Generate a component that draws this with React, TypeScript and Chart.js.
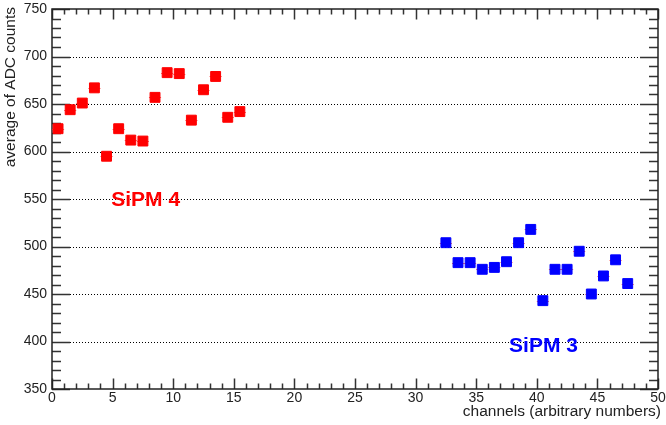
import React, { useEffect, useRef } from "react";
import { Chart, registerables } from "chart.js";

Chart.register(...registerables);

const sipm4Channels = [0.5, 1.5, 2.5, 3.5, 4.5, 5.5, 6.5, 7.5, 8.5, 9.5, 10.5, 11.5, 12.5, 13.5, 14.5, 15.5];
const sipm4Values = [624, 644, 651, 667, 595, 624, 612, 611, 657, 683, 682, 633, 665, 679, 636, 642];
const sipm3Channels = [32.5, 33.5, 34.5, 35.5, 36.5, 37.5, 38.5, 39.5, 40.5, 41.5, 42.5, 43.5, 44.5, 45.5, 46.5, 47.5];
const sipm3Values = [504, 483, 483, 476, 478, 484, 504, 518, 443, 476, 476, 495, 450, 469, 486, 461];

const xTitle = "channels (arbitrary numbers)";
const yTitle = "average of ADC counts";
const labelTexts = ["SiPM 4", "SiPM 3"];
const labelX = [7.73, 40.55];
const labelY = [542.6, 389];
const labelColors = ["#ff0000", "#0000ff"];

const X_MIN = 0, X_MAX = 50, X_MAJOR = 5, X_MINOR = 1;
const Y_MIN = 350, Y_MAX = 750, Y_MAJOR = 50, Y_MINOR = 10;

const FONT = "'Liberation Sans', Arial, Helvetica, sans-serif";

const zeroPadding = () => ({ top: 0, left: 0, right: 0, bottom: 0 });

const rootPlugin = {
  id: "rootStyle",
  beforeDatasetsDraw(chart: any) {
    const { ctx, chartArea: a, scales } = chart;
    const xs = scales.x, ys = scales.y;
    ctx.save();
    ctx.strokeStyle = "#000";
    ctx.lineWidth = 1;
    ctx.setLineDash([1, 2]);
    for (let v = Y_MIN + Y_MAJOR; v < Y_MAX; v += Y_MAJOR) {
      const y = Math.round(ys.getPixelForValue(v)) + 0.5;
      ctx.beginPath();
      ctx.moveTo(a.left, y);
      ctx.lineTo(a.right, y);
      ctx.stroke();
    }
    ctx.setLineDash([]);
    ctx.strokeStyle = "#333";
    ctx.lineWidth = 1.5;
    for (let v = X_MIN; v <= X_MAX + 1e-9; v += X_MINOR) {
      const x = Math.round(xs.getPixelForValue(v)) + 0.5;
      const major = Math.abs(v / X_MAJOR - Math.round(v / X_MAJOR)) < 1e-6;
      const len = major ? 10.5 : 5.5;
      ctx.beginPath();
      ctx.moveTo(x, a.bottom);
      ctx.lineTo(x, a.bottom - len);
      ctx.moveTo(x, a.top);
      ctx.lineTo(x, a.top + len);
      ctx.stroke();
    }
    for (let v = Y_MIN; v <= Y_MAX + 1e-9; v += Y_MINOR) {
      const y = Math.round(ys.getPixelForValue(v)) + 0.5;
      const major = Math.abs(v / Y_MAJOR - Math.round(v / Y_MAJOR)) < 1e-6;
      const len = major ? 18 : 9;
      ctx.beginPath();
      ctx.moveTo(a.left, y);
      ctx.lineTo(a.left + len, y);
      ctx.moveTo(a.right, y);
      ctx.lineTo(a.right - len, y);
      ctx.stroke();
    }
    ctx.strokeStyle = "#222";
    ctx.lineWidth = 1.5;
    ctx.strokeRect(a.left, a.top, a.right - a.left, a.bottom - a.top);
    ctx.strokeStyle = "rgba(255,60,60,0.8)";
    ctx.lineWidth = 1;
    chart.data.datasets.forEach((ds: any) => {
      ds.data.forEach((p: any) => {
        const y = Math.round(ys.getPixelForValue(p.y)) + 0.5;
        ctx.beginPath();
        ctx.moveTo(xs.getPixelForValue(p.x - 0.5), y);
        ctx.lineTo(xs.getPixelForValue(p.x + 0.5), y);
        ctx.stroke();
      });
    });
    ctx.restore();
  },
  afterDraw(chart: any) {
    const { ctx, chartArea: a, scales } = chart;
    const xs = scales.x, ys = scales.y;
    ctx.save();
    ctx.font = `bold 21px ${FONT}`;
    ctx.textAlign = "center";
    ctx.textBaseline = "alphabetic";
    labelTexts.forEach((t, i) => {
      ctx.fillStyle = labelColors[i];
      ctx.fillText(t, xs.getPixelForValue(labelX[i]), ys.getPixelForValue(labelY[i]));
    });
    ctx.fillStyle = "#222";
    ctx.font = `15.5px ${FONT}`;
    ctx.textAlign = "right";
    ctx.textBaseline = "middle";
    ctx.fillText(xTitle, a.right + 3, 412);
    ctx.translate(10.5, a.top - 2);
    ctx.rotate(-Math.PI / 2);
    ctx.textAlign = "right";
    ctx.fillText(yTitle, 0, 0);
    ctx.restore();
  },
};

export default function App() {
  const ref = useRef<HTMLCanvasElement>(null);
  useEffect(() => {
    document.body.style.margin = "0";
    const canvas = ref.current!;
    const chart = new Chart(canvas, {
      type: "scatter",
      data: {
        datasets: [
          {
            label: "SiPM 4",
            data: sipm4Channels.map((x, i) => ({ x, y: sipm4Values[i] })),
            backgroundColor: "#ff0000",
            borderColor: "#ff0000",
            pointStyle: "rect",
            pointRadius: 7,
            borderWidth: 1,
          },
          {
            label: "SiPM 3",
            data: sipm3Channels.map((x, i) => ({ x, y: sipm3Values[i] })),
            backgroundColor: "#0000ff",
            borderColor: "#0000ff",
            pointStyle: "rect",
            pointRadius: 7,
            borderWidth: 1,
          },
        ],
      },
      options: {
        responsive: false,
        animation: false,
        layout: { padding: { top: 9, right: 6, left: 0, bottom: 0 } },
        plugins: { legend: { display: false }, tooltip: { enabled: false } },
        scales: {
          x: {
            type: "linear",
            min: X_MIN,
            max: X_MAX,
            border: { display: false },
            grid: { display: false, drawTicks: false },
            ticks: {
              stepSize: X_MAJOR,
              padding: 1,
              color: "#222",
              font: { family: FONT, size: 14 },
              maxRotation: 0,
            },
            afterFit: (s: any) => {
              s.height = 36;
              s.paddingLeft = 0;
              s.paddingRight = 0;
              s.getPadding = zeroPadding;
            },
          },
          y: {
            type: "linear",
            min: Y_MIN,
            max: Y_MAX,
            border: { display: false },
            grid: { display: false, drawTicks: false },
            ticks: {
              stepSize: Y_MAJOR,
              padding: 5,
              color: "#222",
              font: { family: FONT, size: 14 },
            },
            afterFit: (s: any) => {
              s.width = 52;
              s.paddingTop = 0;
              s.paddingBottom = 0;
              s.getPadding = zeroPadding;
            },
          },
        },
      },
      plugins: [rootPlugin],
    });
    return () => chart.destroy();
  }, []);
  return <canvas ref={ref} width={666} height={425} style={{ display: "block" }} />;
}
